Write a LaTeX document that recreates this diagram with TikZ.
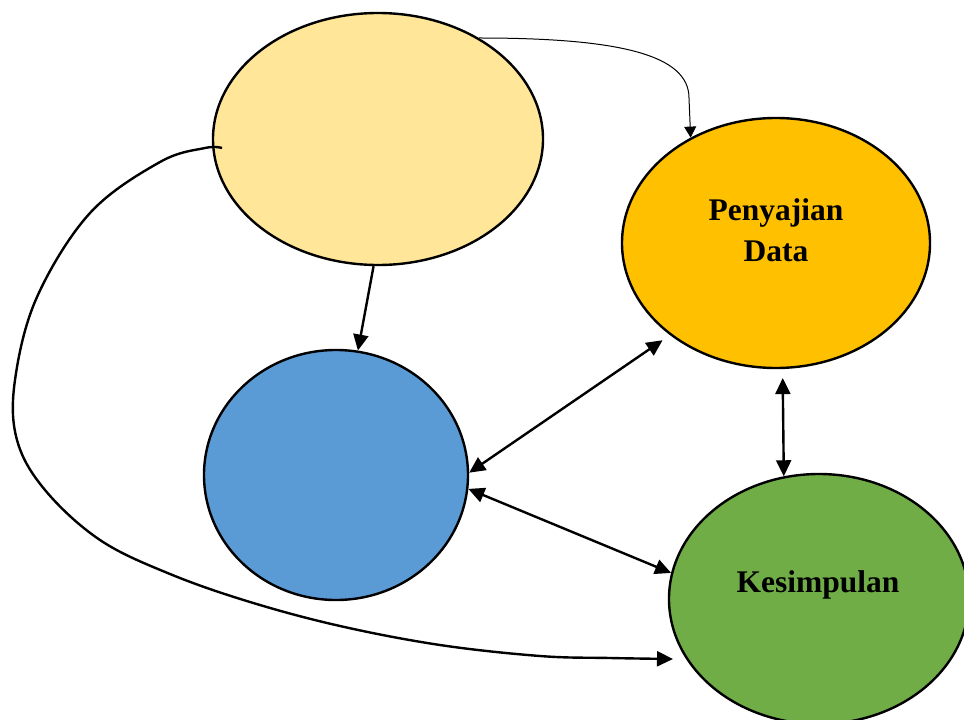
\documentclass[tikz,border=0pt]{standalone}
\usepackage{fontspec}
\setmainfont{Liberation Serif}
\usetikzlibrary{shapes.geometric,arrows.meta}
\definecolor{paleyellow}{HTML}{FFE699}
\definecolor{amber}{HTML}{FFC000}
\definecolor{skyblue}{HTML}{5B9BD5}
\definecolor{leafgreen}{HTML}{70AD47}
\tikzset{
  bubble/.style={ellipse, draw=black, line width=2.4pt, inner sep=0pt},
  caption/.style={font=\fontsize{31.5}{41}\selectfont\bfseries, align=center, inner sep=0pt},
  tip/.style={Triangle[length=16pt,width=15pt]},
  link/.style={line width=2.4pt, -{Triangle[length=16pt,width=15pt]}},
  biglink/.style={line width=2.4pt, {Triangle[length=16pt,width=15pt]}-{Triangle[length=16pt,width=15pt]}},
  thinlink/.style={line width=1pt, -{Triangle[length=11pt,width=12pt]}}
}
\begin{document}
\begin{tikzpicture}[x=1pt,y=-1pt]
\useasboundingbox (0,0) rectangle (964,720);
\clip (0,0) rectangle (964,720);

% the four circles
\node[bubble, fill=paleyellow, minimum width=330pt, minimum height=252pt] (top) at (378,139) {};
\node[bubble, fill=amber, minimum width=308pt, minimum height=250pt] (pen) at (776,243) {};
\node[bubble, fill=skyblue, minimum width=264pt, minimum height=250pt] (mid) at (336,475) {};
\node[bubble, fill=leafgreen, minimum width=300pt, minimum height=250pt] (kes) at (819,599) {};

% labels
\node[caption] (penlabel) at (776,230) {Penyajian\\Data};
\node[caption] (keslabel) at (818,585) {Kesimpulan};

% loose ends of the long left-hand connector
\coordinate (lstart) at (222,148);
\coordinate (kin) at (673,659);

% connectors
\draw[thinlink] (top.45) .. controls (620,38) and (689,55) .. (689,98) -- (pen.129);
\draw[link] (top.-92) -- (mid.80);
\draw[biglink, shorten >=9pt] (mid.1) -- (pen.221);
\draw[biglink] (mid.-6) -- (kes.170);
\draw[biglink, shorten <=9pt] (pen.-87) -- (kes.106.5);
\draw[link] plot[smooth, tension=0.6] coordinates {
  (lstart) (205,148) (160,162) (90,213) (37,297) (15,380) (17,440)
  (45,490) (100,540) (170,574) (250,602) (340,626) (440,645) (540,656) (610,658) (kin)};
\end{tikzpicture}
\end{document}
